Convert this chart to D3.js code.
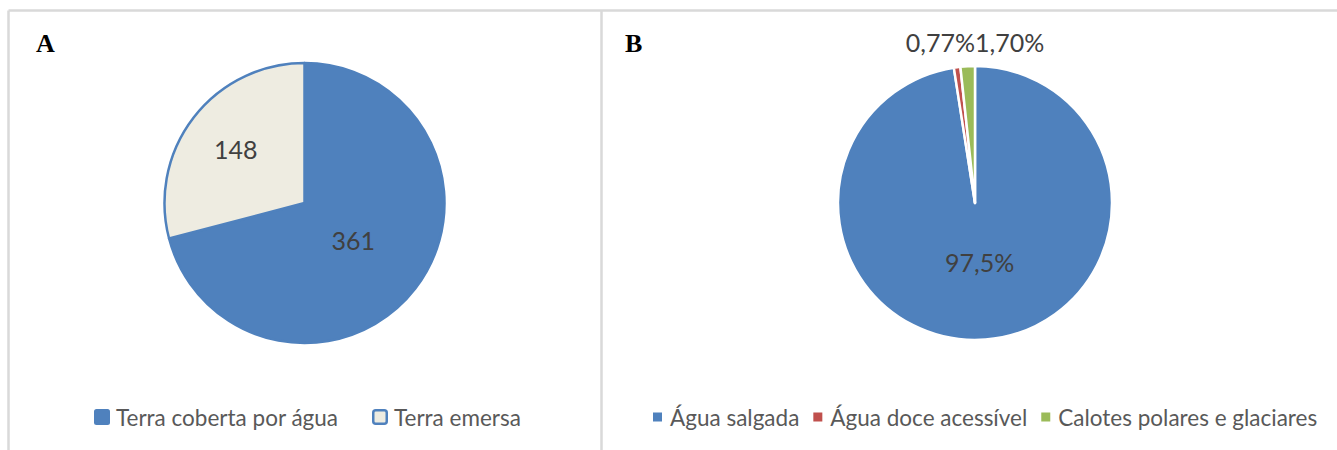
<!DOCTYPE html>
<html>
<head>
<meta charset="utf-8">
<script src="https://cdn.jsdelivr.net/npm/d3@7"></script>
<style>
  html, body { margin: 0; padding: 0; background: #fff; }
  svg { display: block; }
</style>
</head>
<body>
<svg id="chart" width="1337" height="450"></svg>
<script>
// Panel A: Earth's surface (values as labelled)
const surfaceCategories = ["Terra coberta por água", "Terra emersa"];
const surfaceValues = [361, 148];
const surfaceLabels = ["361", "148"];

// Panel B: distribution of water on the planet (%)
const waterCategories = ["Água salgada", "Água doce acessível", "Calotes polares e glaciares"];
const waterValues = [97.5, 0.77, 1.70];
const waterLabels = ["97,5%", "0,77%", "1,70%"];

const panelTitles = ["A", "B"];

const W = 1337, H = 450;
const svg = d3.select("#chart");
svg.append("rect").attr("width", W).attr("height", H).attr("fill", "#fff");

const FONT = "Lato, 'Open Sans', sans-serif";
const LABEL_COLOR = "#404040";
const LEGEND_COLOR = "#595959";

// frame: top rule, left rule and the divider between panels
const frame = svg.append("g").attr("stroke", "#d9d9d9").attr("stroke-width", 2.5);
frame.append("line").attr("x1", 8.5).attr("x2", W).attr("y1", 10.5).attr("y2", 10.5);
frame.append("line").attr("x1", 8.5).attr("x2", 8.5).attr("y1", 10.5).attr("y2", H);
frame.append("line").attr("x1", 601.5).attr("x2", 601.5).attr("y1", 10.5).attr("y2", H);

// panel letters
svg.selectAll("text.panel-title")
  .data(panelTitles)
  .join("text")
  .attr("class", "panel-title")
  .attr("x", (d, i) => i === 0 ? 36 : 625)
  .attr("y", 52)
  .attr("font-family", "'Liberation Serif', 'Times New Roman', serif")
  .attr("font-weight", "bold")
  .attr("font-size", 26)
  .attr("fill", "#000")
  .text(d => d);

function drawPie(opts) {
  const g = svg.append("g").attr("transform", `translate(${opts.cx},${opts.cy})`);
  const pie = d3.pie().sort(null).value(d => d.value);
  const arcs = pie(opts.values.map((v, i) => ({ value: v, cat: opts.categories[i], label: opts.labels[i], i })));
  const arc = d3.arc().innerRadius(0).outerRadius(opts.r);
  const color = d3.scaleOrdinal().domain(opts.categories).range(opts.colors);

  g.selectAll("path.slice")
    .data(arcs)
    .join("path")
    .attr("class", "slice")
    .attr("d", arc)
    .attr("fill", d => color(d.data.cat))
    .attr("stroke", d => opts.stroke(d))
    .attr("stroke-width", opts.strokeWidth)
    .attr("stroke-linejoin", "round");

  const share = d => (d.endAngle - d.startAngle) / (2 * Math.PI);
  const inside = arcs.filter(d => share(d) >= opts.insideMin);
  const outside = arcs.filter(d => share(d) < opts.insideMin);

  // labels inside slices, large slices closer to the centre
  g.selectAll("text.inside")
    .data(inside)
    .join("text")
    .attr("class", "inside")
    .each(function (d) {
      const k = share(d) > 0.5 ? 0.44 : 0.62;
      const la = d3.arc().innerRadius(opts.r * k).outerRadius(opts.r * k);
      const [x, y] = la.centroid(d);
      d3.select(this).attr("x", x).attr("y", y);
    })
    .attr("dy", "0.36em")
    .attr("text-anchor", "middle")
    .attr("font-family", FONT)
    .attr("font-size", 25)
    .attr("fill", LABEL_COLOR)
    .text(d => d.data.label);

  // labels of thin slices set in a row above the pie
  if (outside.length) {
    const row = g.append("g");
    const texts = row.selectAll("text.outside")
      .data(outside)
      .join("text")
      .attr("class", "outside")
      .attr("y", -opts.r - 14)
      .attr("font-family", FONT)
      .attr("font-size", 25)
      .attr("fill", LABEL_COLOR)
      .text(d => d.data.label);
    const widths = [];
    texts.each(function () { widths.push(this.getComputedTextLength()); });
    let x = -d3.sum(widths) / 2;
    texts.each(function (d, i) { d3.select(this).attr("x", x); x += widths[i]; });
  }

  // legend
  const lg = svg.append("g").attr("transform", `translate(${opts.legendX},${opts.legendY})`);
  let lx = 0;
  opts.categories.forEach((c, i) => {
    const s = opts.legendSwatch;
    const rect = lg.append("rect")
      .attr("x", lx).attr("y", -s / 2 - 1)
      .attr("width", s).attr("height", s)
      .attr("rx", opts.legendRx)
      .attr("fill", color(c));
    if (opts.legendStroke(i)) {
      rect.attr("stroke", opts.legendStroke(i)).attr("stroke-width", 2.5)
        .attr("x", lx + 1.25).attr("y", -s / 2 - 1 + 1.25)
        .attr("width", s - 2.5).attr("height", s - 2.5);
    }
    lx += s + opts.legendTextGap;
    const t = lg.append("text")
      .attr("x", lx).attr("y", 0)
      .attr("dy", "0.36em")
      .attr("font-family", FONT)
      .attr("font-size", opts.legendFont)
      .attr("fill", LEGEND_COLOR)
      .text(c);
    lx += t.node().getComputedTextLength() + opts.legendItemGap;
  });
}

drawPie({
  cx: 304.5, cy: 203, r: 140,
  values: surfaceValues, categories: surfaceCategories, labels: surfaceLabels,
  colors: ["#4f81bd", "#eeece1"],
  stroke: () => "#4f81bd", strokeWidth: 2.5,
  insideMin: 0.05,
  legendX: 94, legendY: 418, legendSwatch: 16, legendRx: 2.5,
  legendTextGap: 6, legendItemGap: 34, legendFont: 22.5,
  legendStroke: i => i === 1 ? "#4f81bd" : null
});

drawPie({
  cx: 975, cy: 203, r: 137,
  values: waterValues, categories: waterCategories, labels: waterLabels,
  colors: ["#4f81bd", "#c0504d", "#9bbb59"],
  stroke: () => "#fff", strokeWidth: 2.5,
  insideMin: 0.05,
  legendX: 653, legendY: 418, legendSwatch: 9, legendRx: 0,
  legendTextGap: 8, legendItemGap: 14, legendFont: 22.5,
  legendStroke: () => null
});
</script>
</body>
</html>
